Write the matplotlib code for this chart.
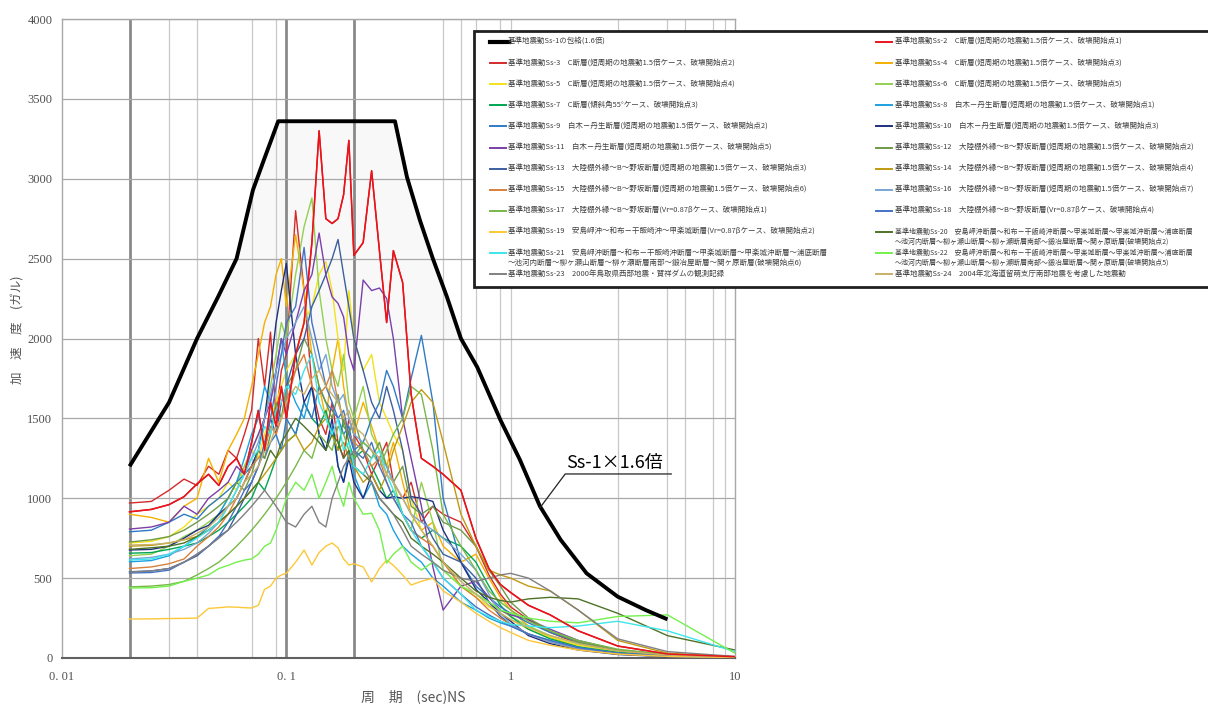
import matplotlib.pyplot as plt
from matplotlib.lines import Line2D
from matplotlib.patches import Rectangle
from matplotlib.ticker import NullLocator

plt.rcParams['font.family'] = ['Noto Sans CJK JP', 'DejaVu Sans']

# ------------------------------------------------------------------
#  Data (period in sec, acceleration in gal)
# ------------------------------------------------------------------
periods = [0.02, 0.025, 0.03, 0.035, 0.04,
           0.045, 0.05, 0.055, 0.06, 0.065,
           0.07, 0.075, 0.08, 0.085, 0.09,
           0.095, 0.1, 0.11, 0.12, 0.13,
           0.14, 0.15, 0.16, 0.17, 0.18,
           0.19, 0.2, 0.22, 0.24, 0.26,
           0.28, 0.3, 0.33, 0.36, 0.4,
           0.45, 0.5, 0.6, 0.7, 0.8,
           0.9, 1.0, 1.2, 1.5, 2.0,
           3.0, 5.0, 10.0]

# Ss-1 x 1.6 envelope
env_periods = [0.02, 0.03, 0.04, 0.05, 0.06, 0.071, 0.08, 0.092, 0.305, 0.345, 0.394, 0.45,
               0.52, 0.6, 0.71, 0.9, 1.1, 1.35, 1.67, 2.18, 3.0, 4.0, 5.0]
env_values = [1200, 1600, 2000, 2270, 2500, 2930, 3130, 3360, 3360, 3010, 2740, 2500,
              2260, 2000, 1820, 1490, 1240, 950, 740, 530, 384, 300, 242]

ss2 = [915, 930, 960, 1010, 1090,
       1150, 1080, 1200, 1250, 1150,
       1350, 1550, 1300, 1600, 1450,
       1700, 1500, 1900, 2100, 2600,
       3300, 2750, 2720, 2750, 2900,
       3240, 2520, 2600, 3050, 2550,
       2100, 2550, 2350, 1650, 1250,
       1200, 1150, 1050, 750, 560,
       460, 410, 330, 270, 170,
       75, 25, 8]
ss3 = [970, 980, 1050, 1120, 1080,
       1200, 1150, 1300, 1250, 1400,
       1550, 2000, 1700, 2040, 1500,
       1800, 1900, 2800, 2300, 1700,
       1500, 1400, 1600, 1350, 1250,
       1500, 1400, 1300, 1150, 1250,
       1350, 1100, 1000, 1100, 850,
       950, 900, 850, 700, 520,
       400, 320, 240, 160, 90,
       45, 18, 6]
ss4 = [900, 880, 850, 950, 1000,
       1250, 1100, 1300, 1400, 1500,
       1700, 1900, 2100, 2200, 2400,
       2500, 2200, 2650, 2300, 1900,
       1700, 1500, 1800, 2000, 1700,
       1500, 1400, 1600, 1450, 1300,
       1200, 1350, 1100, 900, 800,
       850, 700, 600, 650, 500,
       380, 300, 200, 130, 70,
       30, 12, 5]
ss5 = [720, 730, 760, 820, 900,
       950, 1000, 1100, 1050, 1200,
       1300, 1250, 1400, 1500, 1600,
       1700, 1800, 1900, 2100, 2200,
       2400, 2480, 2300, 2000, 1800,
       2300, 2000, 1800, 1900, 1600,
       1500, 1400, 1300, 1000, 800,
       700, 600, 450, 380, 320,
       280, 240, 180, 130, 80,
       40, 15, 5]
ss6 = [640, 650, 700, 760, 800,
       850, 900, 1000, 1100, 1200,
       1300, 1400, 1500, 1700, 1900,
       2100, 2000, 2400, 2700, 2880,
       2300, 2000, 1800, 1700, 1900,
       1600, 1500, 1700, 1400, 1300,
       1200, 1100, 900, 800, 1100,
       850, 550, 450, 400, 350,
       300, 260, 200, 140, 90,
       45, 18, 6]
ss7 = [656, 660, 680, 700, 720,
       760, 800, 850, 900, 950,
       1000, 1100, 1050, 1150, 1250,
       1300, 1350, 1400, 1600, 1500,
       1450, 1550, 1400, 1300, 1500,
       1350, 1250, 1300, 1200, 1100,
       1000, 1050, 900, 800, 750,
       800, 750, 700, 600, 450,
       330, 260, 180, 120, 70,
       35, 14, 5]
ss8 = [602, 610, 640, 700, 760,
       820, 900, 1000, 1100, 1250,
       1400, 1500, 1700, 1600, 1800,
       2000, 1750, 1600, 1500, 1700,
       1400, 1300, 1450, 1200, 1100,
       1300, 1150, 1000, 1100, 950,
       900, 800, 700, 650, 600,
       500, 450, 350, 300, 250,
       220, 200, 150, 110, 65,
       30, 12, 4]
ss9 = [790, 800, 850, 900, 870,
       950, 1000, 1050, 1100, 1150,
       1200, 1300, 1250, 1350, 1400,
       1300, 1500, 1400, 1600, 1500,
       1700, 1600, 1550, 1500, 1400,
       1450, 1300, 1350, 1500, 1600,
       1800, 1700, 1500, 1750, 2020,
       1600, 1000, 600, 450, 380,
       320, 280, 220, 160, 100,
       50, 20, 6]
ss10 = [676, 680, 700, 750, 800,
        830, 900, 950, 1000, 1100,
        1200, 1300, 1500, 1800, 2100,
        2300, 2470, 1900, 1600, 1700,
        1400, 1300, 1500, 1200, 1100,
        1250, 1100, 1000, 1150, 1050,
        1000, 1010, 1000, 1010, 1000,
        980, 800, 600, 430, 350,
        280, 230, 140, 90, 50,
        22, 8, 3]
ss11 = [807, 820, 850, 950, 900,
        1000, 1050, 1100, 1200, 1150,
        1300, 1400, 1500, 1600, 1800,
        2000, 1900, 2100, 2300, 2400,
        2660, 2400, 2260, 2220, 2135,
        1900, 1800, 2366, 2300, 2316,
        2250, 2000, 1500, 1250, 950,
        570, 300, 450, 480, 380,
        300, 270, 240, 180, 110,
        50, 18, 5]
ss12 = [726, 740, 760, 800, 850,
        900, 950, 1000, 1100, 1050,
        1150, 1300, 1250, 1400, 1600,
        1500, 1700, 1800, 2000, 1900,
        1700, 1600, 1500, 1650, 1450,
        1400, 1500, 1300, 1250, 1350,
        1200, 1100, 1200, 950, 900,
        950, 850, 800, 700, 550,
        450, 350, 250, 170, 100,
        50, 20, 6]
ss13 = [540, 545, 560, 600, 640,
        700, 760, 800, 900, 1000,
        1100, 1200, 1300, 1500, 1400,
        1600, 1700, 1900, 2000, 2200,
        2300, 2400, 2500, 2620, 2400,
        2200, 2000, 1800, 1600, 1500,
        1700, 1550, 1300, 1000, 900,
        750, 650, 600, 500, 350,
        260, 210, 150, 100, 60,
        30, 12, 4]
ss14 = [700, 705, 720, 740, 760,
        800, 850, 900, 950, 1000,
        1050, 1100, 1150, 1200, 1250,
        1300, 1350, 1400, 1300, 1350,
        1450, 1500, 1400, 1300, 1350,
        1250, 1200, 1100, 1150, 1050,
        1150, 1300, 1450, 1600, 1680,
        1600, 1350, 900, 700, 550,
        520, 500, 450, 420, 300,
        110, 30, 8]
ss15 = [560, 570, 590, 620, 700,
        760, 820, 900, 1000, 1100,
        1200, 1250, 1300, 1450, 1400,
        1500, 1600, 1800, 1900, 1700,
        1650, 1700, 1800, 1600, 1500,
        1400, 1350, 1300, 1200, 1250,
        1100, 1000, 900, 800, 750,
        700, 600, 450, 380, 300,
        250, 210, 150, 100, 55,
        25, 10, 3]
ss16 = [620, 630, 650, 680, 720,
        780, 850, 950, 1050, 1150,
        1250, 1350, 1500, 1650, 1800,
        1900, 2000, 2100, 2200, 2000,
        1800, 1900, 1700, 1600, 1650,
        1500, 1400, 1350, 1300, 1250,
        1200, 1100, 1000, 900, 850,
        800, 750, 650, 550, 400,
        280, 210, 150, 100, 60,
        28, 10, 3]
ss17 = [445, 450, 460, 480, 520,
        560, 600, 650, 700, 750,
        800, 850, 900, 950, 1000,
        1050, 1100, 1200, 1300, 1250,
        1400, 1350, 1300, 1450, 1400,
        1300, 1250, 1350, 1300, 1200,
        1300, 1400, 1500, 1700, 1650,
        1300, 900, 700, 550, 420,
        350, 300, 230, 170, 110,
        55, 22, 7]
ss18 = [532, 535, 550, 600, 650,
        700, 760, 850, 950, 1050,
        1100, 1200, 1350, 1500, 1700,
        1900, 2100, 2200, 2570, 2100,
        1900, 1700, 1600, 1500, 1550,
        1400, 1300, 1250, 1350, 1200,
        1100, 1000, 900, 850, 700,
        600, 500, 400, 320, 270,
        230, 200, 150, 110, 65,
        30, 12, 4]
ss19 = [244, 245, 247, 248, 250,
        310, 315, 320, 318, 315,
        313, 330, 430, 450, 500,
        520, 530, 600, 676, 582,
        660, 700, 720, 690, 620,
        582, 590, 570, 476, 560,
        613, 580, 520, 457, 480,
        500, 420, 350, 280, 230,
        190, 160, 110, 80, 50,
        25, 10, 3]
ss20 = [680, 690, 700, 720, 760,
        800, 850, 900, 950, 1000,
        1050, 1100, 1200, 1300, 1250,
        1350, 1400, 1500, 1450, 1400,
        1350, 1300, 1400, 1350, 1250,
        1300, 1200, 1150, 1100, 1000,
        950, 900, 850, 750, 700,
        650, 600, 500, 420, 380,
        360, 350, 370, 380, 370,
        280, 140, 50]
ss21 = [613, 620, 650, 700, 750,
        800, 850, 950, 1050, 1150,
        1250, 1300, 1450, 1400, 1550,
        1600, 1700, 1650, 1800, 1900,
        1600, 1500, 1400, 1500, 1300,
        1350, 1200, 1150, 1250, 1300,
        1150, 1050, 900, 800, 700,
        600, 500, 400, 300, 260,
        230, 210, 200, 190, 200,
        230, 170, 40]
ss22 = [438, 440, 450, 480, 500,
        520, 560, 580, 600, 613,
        620, 650, 700, 720, 800,
        900, 1000, 1100, 1050, 1150,
        1000, 1100, 1200, 1050, 950,
        1100, 1000, 900, 906, 800,
        594, 650, 700, 600, 550,
        600, 550, 450, 400, 350,
        300, 280, 250, 230, 220,
        260, 270, 30]
ss23 = [538, 545, 560, 600, 650,
        700, 750, 800, 850, 900,
        950, 1000, 1050, 1000, 950,
        900, 850, 820, 900, 950,
        850, 820, 1000, 1100, 1200,
        1250, 1300, 1200, 1100, 1000,
        950, 900, 800, 700, 650,
        600, 550, 500, 480, 500,
        520, 530, 500, 420, 300,
        120, 40, 10]
ss24 = [707, 710, 720, 740, 780,
        820, 880, 950, 1000, 1100,
        1150, 1200, 1300, 1350, 1450,
        1500, 1600, 1700, 1650, 1750,
        1800, 1700, 1650, 1600, 1500,
        1550, 1450, 1400, 1300, 1250,
        1150, 1100, 1000, 900, 800,
        700, 600, 480, 400, 330,
        280, 240, 190, 140, 90,
        45, 18, 6]

# legend texts
FAULT_C = 'C断層(短周期の地震動1.5倍ケース、破壊開始点{})'
FAULT_S = '白木－丹生断層(短周期の地震動1.5倍ケース、破壊開始点{})'
FAULT_B = '大陸棚外縁～B～野坂断層(短周期の地震動1.5倍ケース、破壊開始点{})'
FAULT_LONG = ('安島岬沖断層～和布－干飯崎沖断層～甲楽城断層～甲楽城沖断層～浦底断層\n'
              '～池河内断層～柳ヶ瀬山断層～柳ヶ瀬断層南部～鍛冶屋断層～関ヶ原断層(破壊開始点{})')

labels = {
    'Ss-1': '基準地震動Ss-1の包絡(1.6倍)',
    'Ss-2': '基準地震動Ss-2　' + FAULT_C.format(1),
    'Ss-3': '基準地震動Ss-3　' + FAULT_C.format(2),
    'Ss-4': '基準地震動Ss-4　' + FAULT_C.format(3),
    'Ss-5': '基準地震動Ss-5　' + FAULT_C.format(4),
    'Ss-6': '基準地震動Ss-6　' + FAULT_C.format(5),
    'Ss-7': '基準地震動Ss-7　C断層(傾斜角55°ケース、破壊開始点3)',
    'Ss-8': '基準地震動Ss-8　' + FAULT_S.format(1),
    'Ss-9': '基準地震動Ss-9　' + FAULT_S.format(2),
    'Ss-10': '基準地震動Ss-10　' + FAULT_S.format(3),
    'Ss-11': '基準地震動Ss-11　' + FAULT_S.format(5),
    'Ss-12': '基準地震動Ss-12　' + FAULT_B.format(2),
    'Ss-13': '基準地震動Ss-13　' + FAULT_B.format(3),
    'Ss-14': '基準地震動Ss-14　' + FAULT_B.format(4),
    'Ss-15': '基準地震動Ss-15　' + FAULT_B.format(6),
    'Ss-16': '基準地震動Ss-16　' + FAULT_B.format(7),
    'Ss-17': '基準地震動Ss-17　大陸棚外縁～B～野坂断層(Vr=0.87βケース、破壊開始点1)',
    'Ss-18': '基準地震動Ss-18　大陸棚外縁～B～野坂断層(Vr=0.87βケース、破壊開始点4)',
    'Ss-19': '基準地震動Ss-19　安島岬沖～和布－干飯崎沖～甲楽城断層(Vr=0.87βケース、破壊開始点2)',
    'Ss-20': '基準地震動Ss-20　' + FAULT_LONG.format(2),
    'Ss-21': '基準地震動Ss-21　' + FAULT_LONG.format(6),
    'Ss-22': '基準地震動Ss-22　' + FAULT_LONG.format(5),
    'Ss-23': '基準地震動Ss-23　2000年鳥取県西部地震・賀祥ダムの観測記録',
    'Ss-24': '基準地震動Ss-24　2004年北海道留萌支庁南部地震を考慮した地震動',
}

series = {
    'Ss-2': ss2, 'Ss-3': ss3, 'Ss-4': ss4, 'Ss-5': ss5, 'Ss-6': ss6, 'Ss-7': ss7,
    'Ss-8': ss8, 'Ss-9': ss9, 'Ss-10': ss10, 'Ss-11': ss11, 'Ss-12': ss12, 'Ss-13': ss13,
    'Ss-14': ss14, 'Ss-15': ss15, 'Ss-16': ss16, 'Ss-17': ss17, 'Ss-18': ss18, 'Ss-19': ss19,
    'Ss-20': ss20, 'Ss-21': ss21, 'Ss-22': ss22, 'Ss-23': ss23, 'Ss-24': ss24,
}

colors = {
    'Ss-1': 'black', 'Ss-2': '#e8141c', 'Ss-3': '#d42a2a', 'Ss-4': '#f5b000',
    'Ss-5': '#f2e21a', 'Ss-6': '#92d050', 'Ss-7': '#00a651', 'Ss-8': '#1ba1e2',
    'Ss-9': '#2e7bc4', 'Ss-10': '#1f2f80', 'Ss-11': '#7a3fa8', 'Ss-12': '#6f9a48',
    'Ss-13': '#3d5f9f', 'Ss-14': '#c09a10', 'Ss-15': '#d8803a', 'Ss-16': '#78a6d6',
    'Ss-17': '#78b848', 'Ss-18': '#4472c4', 'Ss-19': '#fcc838', 'Ss-20': '#4f7326',
    'Ss-21': '#3ee6ec', 'Ss-22': '#74f04c', 'Ss-23': '#808080', 'Ss-24': '#c8b068',
}

left_col = ['Ss-1', 'Ss-3', 'Ss-5', 'Ss-7', 'Ss-9', 'Ss-11', 'Ss-13', 'Ss-15',
            'Ss-17', 'Ss-19', 'Ss-21', 'Ss-23']
right_col = ['Ss-2', 'Ss-4', 'Ss-6', 'Ss-8', 'Ss-10', 'Ss-12', 'Ss-14', 'Ss-16',
             'Ss-18', 'Ss-20', 'Ss-22', 'Ss-24']

# callout for the envelope label
callout_periods = [1.35, 1.75, 5.2]
callout_values = [940, 1152, 1152]

x_gridlines_bold = [0.02, 0.1, 0.2]
x_gridlines_thin = [0.03, 0.04, 0.07, 0.09, 0.5, 0.6, 0.7, 0.9, 1, 3, 5, 6, 8, 9]


def draw_chart():
    W, H = 1208, 704
    fig = plt.figure(figsize=(W / 100, H / 100), dpi=100)
    ax = fig.add_axes([62 / W, 1 - 658 / H, 673 / W, 639 / H])

    ax.set_xscale('log')
    ax.set_xlim(0.01, 10)
    ax.set_ylim(0, 4000)

    # grid (Excel style, irregular vertical lines)
    for p in x_gridlines_bold:
        ax.axvline(p, color='#8a8a8a', lw=2.0, zorder=1)
    for p in x_gridlines_thin:
        ax.axvline(p, color='#c8c8c8', lw=0.9, zorder=1)
    for v in range(500, 4001, 500):
        ax.axhline(v, color='#a8a8a8', lw=0.9, zorder=1)

    # faint shading inside the upper part of the envelope
    ax.fill_between(env_periods, 2000, env_values, where=[v >= 2000 for v in env_values],
                    interpolate=True, color='#f8f8f8', zorder=0.5, lw=0)

    for name, vals in series.items():
        ax.plot(periods, vals, color=colors[name], lw=1.0, zorder=3)
    # red Ss-2 on top of the bundle
    ax.plot(periods, ss2, color=colors['Ss-2'], lw=1.1, zorder=4)

    ax.plot(env_periods, env_values, color='black', lw=2.8, zorder=6, solid_capstyle='butt')

    # envelope callout
    ax.plot(callout_periods, callout_values, color='#222222', lw=0.9, zorder=6)
    ax.text(1.77, 1165, 'Ss-1×1.6倍', fontsize=13, color='black', ha='left', va='bottom', zorder=7)

    # axes styling
    for side in ['left', 'top', 'right']:
        ax.spines[side].set_color('#a8a8a8')
        ax.spines[side].set_linewidth(1.0)
    ax.spines['bottom'].set_color('#606060')
    ax.spines['bottom'].set_linewidth(1.5)
    ax.xaxis.set_minor_locator(NullLocator())
    ax.set_xticks([0.01, 0.1, 1, 10])
    ax.set_xticklabels(['0. 01', '0. 1', '1', '10'])
    ax.set_yticks(range(0, 4001, 500))
    ax.tick_params(length=0, labelsize=9, labelcolor='#505050')
    ax.tick_params(axis='x', pad=9)
    ax.tick_params(axis='y', pad=7)
    for lab in ax.get_xticklabels() + ax.get_yticklabels():
        lab.set_fontfamily('Liberation Serif')

    fig.text(18 / W, 1 - 330 / H, '加　速　度　(ガル)', rotation=90, ha='center', va='center',
             fontsize=9, color='#555555')
    fig.text(413 / W, 1 - 697 / H, '周　期　(sec)NS', ha='center', va='center',
             fontsize=10, color='#555555')

    # legend box, running off the right edge of the figure
    fig.add_artist(Rectangle((474 / W, 1 - 287 / H), (1300 - 474) / W, (287 - 31) / H,
                             transform=fig.transFigure, facecolor='white',
                             edgecolor='#202020', lw=2.0, zorder=10))

    def legend_column(names, x_line, x_text, long_size):
        for row, name in enumerate(names):
            y = 42 + 21.1 * row
            lw = 3.0 if name == 'Ss-1' else 1.4
            x_end = x_line + 19 if name == 'Ss-1' else x_line + 16
            fig.add_artist(Line2D([x_line / W, x_end / W], [1 - y / H, 1 - y / H],
                                  transform=fig.transFigure, color=colors[name],
                                  lw=lw, zorder=11))
            parts = labels[name].split('\n')
            size = long_size if len(parts) > 1 else 5.4
            for k, line in enumerate(parts):
                fig.text(x_text / W, 1 - (y + 10 * k) / H, line, fontsize=size,
                         color='#404040', ha='left', va='center', zorder=12)

    legend_column(left_col, 490, 508, 5.4)
    legend_column(right_col, 876, 895, 5.0)

    fig.savefig('out.png', dpi=100)


if __name__ == "__main__":
    draw_chart()
